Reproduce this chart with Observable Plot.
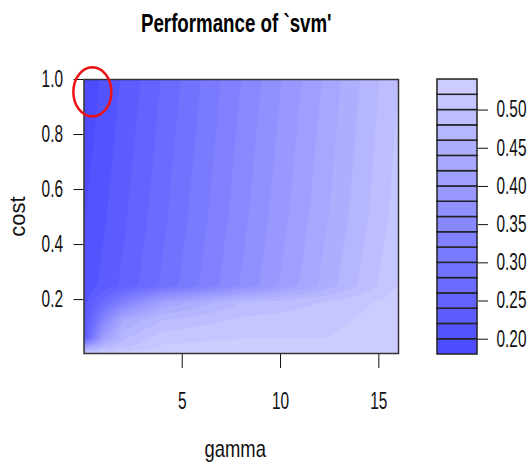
<!DOCTYPE html>
<html><head><meta charset="utf-8">
<script src="https://cdn.jsdelivr.net/npm/d3@7"></script>
<script src="https://cdn.jsdelivr.net/npm/@observablehq/plot@0.6"></script>
<style>
body{margin:0;background:#fff;}
#wrap{display:flex;width:530px;height:470px;font-family:"Liberation Sans",Arial,sans-serif;}
#wrap svg{display:block;overflow:visible;}
</style></head><body><div id="wrap"></div>
<script>
// ---- data ----
const title = "Performance of `svm'";
const xLabel = "gamma";
const yLabel = "cost";
const gammaGrid = [0.004, 1, 2, 4, 8, 12, 16];
const costGrid = [0.004, 0.03, 0.0625, 0.125, 0.19, 0.25, 0.5, 1];
// error (performance) per cost row, one value per gamma in gammaGrid
const errCost0004 = [0.52, 0.525, 0.528, 0.53, 0.53, 0.53, 0.535];
const errCost003  = [0.40, 0.47, 0.495, 0.522, 0.528, 0.528, 0.535];
const errCost0063 = [0.22, 0.41, 0.475, 0.512, 0.519, 0.519, 0.535];
const errCost0125 = [0.215, 0.34, 0.44, 0.48, 0.505, 0.51, 0.535];
const errCost019  = [0.21, 0.27, 0.33, 0.42, 0.48, 0.50, 0.53];
const errCost025  = [0.206, 0.226, 0.245, 0.284, 0.362, 0.442, 0.522];
const errCost05   = [0.199, 0.217, 0.236, 0.275, 0.353, 0.431, 0.51];
const errCost1    = [0.184, 0.204, 0.223, 0.262, 0.340, 0.418, 0.50];
const levels = [0.18,0.20,0.22,0.24,0.26,0.28,0.30,0.32,0.34,0.36,0.38,0.40,0.42,0.44,0.46,0.48,0.50,0.52,0.54];
const xTicks = [5, 10, 15];
const yTicks = [0.2, 0.4, 0.6, 0.8, 1.0];
const barTicks = [0.20, 0.25, 0.30, 0.35, 0.40, 0.45, 0.50];
const highlight = [{gamma: 0.43, cost: 0.955}];

// ---- derived ----
const errGrid = [errCost0004, errCost003, errCost0063, errCost0125, errCost019, errCost025, errCost05, errCost1];
function zAt(g, c) {
  const i = Math.max(0, Math.min(gammaGrid.length - 2, d3.bisectRight(gammaGrid, g) - 1));
  const j = Math.max(0, Math.min(costGrid.length - 2, d3.bisectRight(costGrid, c) - 1));
  const tx = Math.max(0, Math.min(1, (g - gammaGrid[i]) / (gammaGrid[i+1] - gammaGrid[i])));
  const ty = Math.max(0, Math.min(1, (c - costGrid[j]) / (costGrid[j+1] - costGrid[j])));
  const a = errGrid[j][i], b = errGrid[j][i+1], cc = errGrid[j+1][i], d = errGrid[j+1][i+1];
  return (a*(1-tx) + b*tx)*(1-ty) + (cc*(1-tx) + d*tx)*ty;
}
// e1071 hsv_palette(h=2/3, from=0.7, to=0.2, v=1)
const nBands = levels.length - 1;
const colors = d3.range(nBands).map(i => {
  const s = 0.7 - 0.5 * i / (nBands - 1);
  const v = Math.round(255 * (1 - s));
  return d3.rgb(v, v, 255).formatHex();
});
const colorScale = {type: "threshold", domain: levels.slice(1, -1), range: colors};
const bands = levels.slice(0, -1).map((lo, i) => ({lo, hi: levels[i + 1]}));

const ellipseSymbol = {
  draw(ctx, size) {
    const rx = Math.sqrt(size / Math.PI), ry = rx * 1.29, k = 0.5523;
    ctx.moveTo(rx, 0);
    ctx.bezierCurveTo(rx, ry*k, rx*k, ry, 0, ry);
    ctx.bezierCurveTo(-rx*k, ry, -rx, ry*k, -rx, 0);
    ctx.bezierCurveTo(-rx, -ry*k, -rx*k, -ry, 0, -ry);
    ctx.bezierCurveTo(rx*k, -ry, rx, -ry*k, rx, 0);
    ctx.closePath();
  }
};

const main = Plot.plot({
  width: 420, height: 470,
  marginLeft: 83.5, marginRight: 22, marginTop: 79, marginBottom: 117,
  style: {fontSize: "23px", fontFamily: "'Liberation Sans', Arial, sans-serif", color: "#111", background: "transparent"},
  x: {domain: d3.extent(gammaGrid), ticks: xTicks, tickFormat: "d", tickSize: 15, tickPadding: 24, label: null},
  y: {domain: d3.extent(costGrid), ticks: yTicks, tickFormat: ".1f", tickSize: 10, tickPadding: 11, label: null},
  color: colorScale,
  marks: [
    Plot.frame({fill: colors[0]}),
    Plot.contour({
      fill: zAt,
      x1: gammaGrid[0], x2: gammaGrid[gammaGrid.length - 1],
      y1: costGrid[0], y2: costGrid[costGrid.length - 1],
      thresholds: levels, pixelSize: 1, stroke: "none"
    }),
    Plot.frame({stroke: "#333", strokeWidth: 1.5}),
    Plot.dot(highlight, {x: "gamma", y: "cost", r: 19, symbol: ellipseSymbol, stroke: "#ee1111", strokeWidth: 2.5, fill: "none"}),
    Plot.text([title], {frameAnchor: "top", lineAnchor: "middle", dy: -56, dx: -5, fontSize: 26, fontWeight: "bold", fill: "#000"}),
    Plot.text([xLabel], {frameAnchor: "bottom", lineAnchor: "middle", dy: 96, dx: -6, fontSize: 23, fill: "#111"}),
    Plot.text([yLabel], {frameAnchor: "left", dx: -66, rotate: -90, textAnchor: "middle", fontSize: 22, fill: "#111"})
  ]
});

const bar = Plot.plot({
  width: 110, height: 470,
  marginLeft: 17, marginRight: 53, marginTop: 79, marginBottom: 116,
  style: {fontSize: "23px", fontFamily: "'Liberation Sans', Arial, sans-serif", color: "#111", background: "transparent"},
  y: {domain: [levels[0], levels[levels.length - 1]], axis: "right", ticks: barTicks, tickFormat: ".2f", tickSize: 10, tickPadding: 9, label: null},
  color: colorScale,
  marks: [
    Plot.rect(bands, {y1: "lo", y2: "hi", fill: "lo", stroke: "#222", strokeWidth: 1.5})
  ]
});

function squeeze(svg) {
  svg.querySelectorAll("text").forEach(t => {
    const s = t.textContent.trim();
    if (s === yLabel) return;
    const f = s === title ? 0.72 : s === xLabel ? 0.8 : 0.67;
    const x = +t.getAttribute("x") || 0, y = +t.getAttribute("y") || 0;
    const tr = t.getAttribute("transform") || "";
    t.setAttribute("transform", `${tr} translate(${x},${y}) scale(${f},1) translate(${-x},${-y})`);
  });
}
squeeze(main); squeeze(bar);
const wrap = document.getElementById("wrap");
wrap.appendChild(main);
wrap.appendChild(bar);
</script>
</body></html>
